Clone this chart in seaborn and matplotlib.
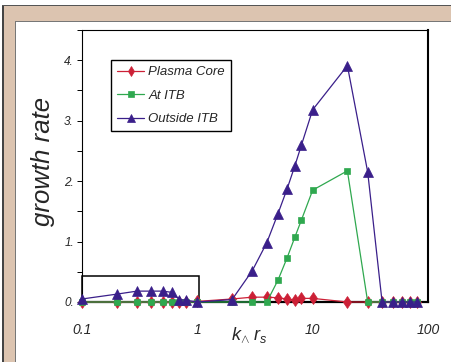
import matplotlib
matplotlib.use("Agg")
import matplotlib.pyplot as plt
import matplotlib.ticker as mticker
from matplotlib.patches import Rectangle
import pandas as pd
import seaborn as sns

# normalised wavenumber k_perp * r_s
k_values = [0.1, 0.2, 0.3, 0.4, 0.5, 0.6, 0.7, 0.8, 1, 2, 3, 4,
            5, 6, 7, 8, 10, 20, 30, 40, 50, 60, 70, 80]
plasma_core = [0, 0, 0, 0, 0, 0, 0, 0, 0.01, 0.05, 0.08, 0.08,
               0.07, 0.05, 0.03, 0.06, 0.06, 0, 0, 0, 0, 0, 0, 0]
at_itb = [0, 0, 0, 0, 0, 0, 0, 0, 0, 0, 0, 0,
          0.36, 0.73, 1.07, 1.36, 1.85, 2.17, 0, 0, 0, 0, 0, 0]
outside_itb = [0.05, 0.13, 0.18, 0.18, 0.18, 0.16, 0.04, 0.03, 0, 0.04, 0.52, 0.98,
               1.46, 1.87, 2.25, 2.60, 3.18, 3.91, 2.15, 0, 0, 0, 0, 0]
series_names = ["Plasma Core", "At ITB", "Outside ITB"]

x_ticks = [0.1, 1, 10, 100]
x_tick_labels = ["0.1", "1", "10", "100"]
y_ticks = [0, 1, 2, 3, 4]
y_tick_labels = ["0.", "1.", "2.", "3.", "4."]
y_minor_ticks = [0.5, 1.5, 2.5, 3.5, 4.5]

sns.set_style("white")
plt.rcParams["font.family"] = ["Liberation Sans", "DejaVu Sans"]
plt.rcParams["font.style"] = "italic"
plt.rcParams["mathtext.fontset"] = "custom"
plt.rcParams["mathtext.it"] = "Liberation Sans:italic"
plt.rcParams["mathtext.rm"] = "Liberation Sans:italic"

W, H = 452, 362
fig = plt.figure(figsize=(W / 100, H / 100), dpi=100, facecolor="white")


def px_rect(x0, y0, x1, y1, **kw):
    """Rectangle given in pixel coordinates measured from the top-left corner."""
    return Rectangle((x0 / W, 1 - y1 / H), (x1 - x0) / W, (y1 - y0) / H,
                     transform=fig.transFigure, zorder=-10, **kw)


# page frame: tan border with a dark outer edge and a white inner panel
fig.patches.extend([
    px_rect(2, 5, W + 2, H + 2, facecolor="#dcc4b0", edgecolor="none"),
    px_rect(2, 5, 4.5, H + 2, facecolor="#444444", edgecolor="none"),
    px_rect(2, 5, W + 2, 6.2, facecolor="#555555", edgecolor="none"),
    px_rect(15, 21, W + 2, H + 2, facecolor="white", edgecolor="none"),
    px_rect(15, 21, 16.2, H + 2, facecolor="#777777", edgecolor="none"),
    px_rect(15, 21, W + 2, 22.2, facecolor="#777777", edgecolor="none"),
])

ax = fig.add_axes([82 / W, 1 - 302 / H, (428 - 82) / W, (302 - 30) / H])
ax.set_facecolor("white")

df = pd.DataFrame({
    "k": k_values * 3,
    "rate": plasma_core + at_itb + outside_itb,
    "region": [n for n in series_names for _ in k_values],
})

styles = {
    "Plasma Core": dict(color="#cc2036", marker="d", markersize=6.5),
    "At ITB": dict(color="#2fa84f", marker="s", markersize=5),
    "Outside ITB": dict(color="#3a1f8a", marker="^", markersize=6.5),
}
for name in series_names:
    st = styles[name]
    sub = df[df["region"] == name]
    sns.lineplot(data=sub, x="k", y="rate", ax=ax, color=st["color"],
                 marker=st["marker"], markersize=st["markersize"],
                 markeredgecolor=st["color"], markeredgewidth=0.5,
                 linewidth=0.9, clip_on=False, label=name,
                 estimator=None, sort=False, zorder=3)

ax.set_xscale("log")
ax.set_xlim(0.1, 100)
ax.set_ylim(0, 4.5)

# zoom box over the low-k region
ax.add_patch(Rectangle((0.1, 0), 1.03 - 0.1, 0.43, fill=False,
                       edgecolor="black", linewidth=1.1, clip_on=False, zorder=2))

ax.set_xticks(x_ticks)
ax.set_xticklabels(x_tick_labels)
ax.xaxis.set_minor_formatter(mticker.NullFormatter())
ax.set_yticks(y_ticks)
ax.set_yticklabels(y_tick_labels)
ax.set_yticks(y_minor_ticks, minor=True)
ax.tick_params(axis="x", which="both", bottom=False, top=False, pad=11.5,
               labelsize=10)
ax.tick_params(axis="y", which="both", left=True, direction="out",
               length=3.6, width=0.7, pad=2.2, labelsize=8.5, color="black")

for side, lw in {"left": 0.8, "top": 0.8, "right": 1.5, "bottom": 1.6}.items():
    ax.spines[side].set_visible(True)
    ax.spines[side].set_color("black")
    ax.spines[side].set_linewidth(lw)

ax.set_ylabel("growth rate", fontsize=18.5)
ax.yaxis.set_label_coords(-0.078, 0.515)
ax.set_xlabel(r"$k_{\wedge}\ r_{s}$", fontsize=13)
ax.xaxis.set_label_coords(0.484, -0.085)

leg = ax.legend(loc="upper left", bbox_to_anchor=(0.083, 0.889),
                borderaxespad=0, frameon=True, fancybox=False,
                edgecolor="black", framealpha=1, fontsize=9.5,
                handlelength=2.1, handletextpad=0.3, labelspacing=0.85,
                borderpad=0.45, markerscale=0.85)
leg.get_frame().set_linewidth(1.0)

fig.savefig("out.png", dpi=100, facecolor=fig.get_facecolor())
